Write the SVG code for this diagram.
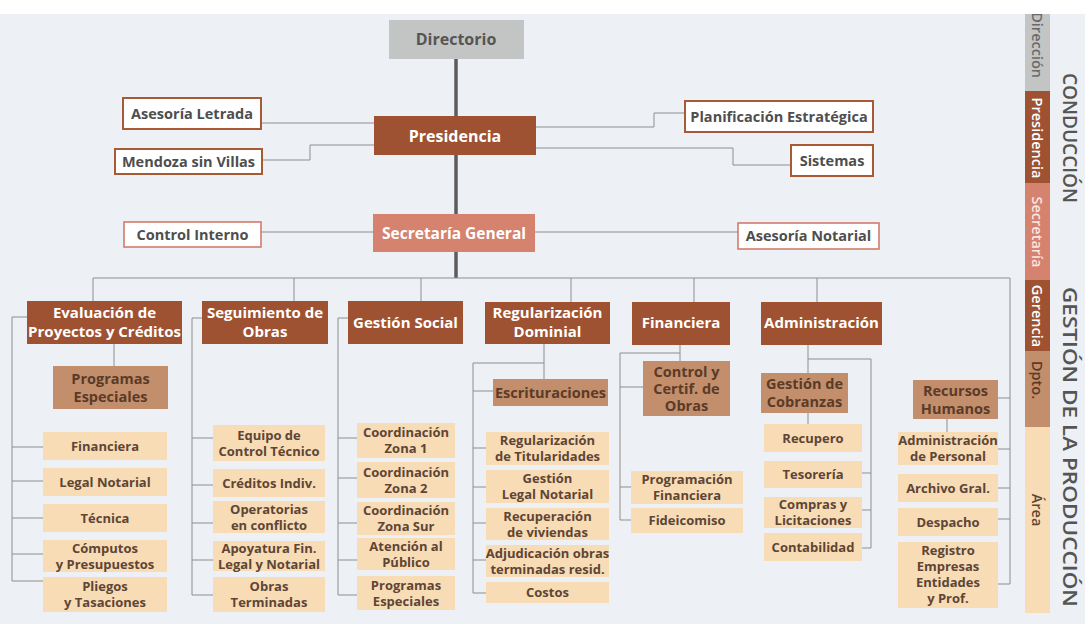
<svg xmlns="http://www.w3.org/2000/svg" width="1085" height="624" viewBox="0 0 1085 624">
  <defs>
    <style>
      text { font-family: "Open Sans", "Noto Sans", "Liberation Sans", sans-serif; font-weight: 700; text-anchor: middle; }
      .ln { fill: none; stroke: #8e8e8e; stroke-width: 1; }
      .trunk { fill: none; stroke: #5c5c5c; stroke-width: 3.5; }
      .dir { fill: #c3c5c5; }
      .pres { fill: #9e5232; }
      .sec { fill: #d5826f; }
      .ger { fill: #9e5232; }
      .dp { fill: #c38e6b; }
      .ar { fill: #f8dcb5; }
      .wb { fill: #ffffff; stroke: #a85a35; stroke-width: 2; }
      .ws { fill: #ffffff; stroke: #d27b6b; stroke-width: 1.6; }
      .tw { fill: #ffffff; font-size: 15px; }
      .tg { fill: #4e4e4e; font-size: 14.5px; }
      .td { fill: #5a3b28; font-size: 14.5px; }
      .ta { fill: #5e4535; font-size: 13px; }
      .side { font-size: 14.5px; font-weight: 600; dominant-baseline: central; }
      .big { font-size: 19px; font-weight: 600; fill: #555555; dominant-baseline: central; }
    </style>
    <clipPath id="barclip"><rect x="1025" y="14" width="25" height="600"/></clipPath>
  </defs>

  <!-- paper -->
  <rect x="0" y="0" width="1085" height="624" fill="#ffffff"/>
  <rect x="0" y="14" width="1085" height="610" fill="#edf0f4"/>

  <!-- connectors -->
  <g id="connectors">
    <path class="trunk" d="M456 59 V278"/>
    <!-- presidencia advisors -->
    <path class="ln" d="M261 123 H374"/>
    <path class="ln" d="M262 160 H310 V145 H374"/>
    <path class="ln" d="M536 127 H654 V113 H685"/>
    <path class="ln" d="M536 148 H733 V165 H791"/>
    <!-- secretaria advisors -->
    <path class="ln" d="M261 232 H373"/>
    <path class="ln" d="M535 232 H738"/>
    <!-- bus -->
    <path class="ln" d="M93 301 V278 H1010 V584 H998"/>
    <path class="ln" d="M294 278 V301 M421 278 V301 M571 278 V302 M694 278 V302 M817 278 V302"/>
    <!-- evaluacion -->
    <path class="ln" d="M114 344 V366"/>
    <path class="ln" d="M27 317 H12 V581 H43 M12 447 H43 M12 481 H43 M12 518 H43 M12 554 H43"/>
    <!-- seguimiento -->
    <path class="ln" d="M202 318 H192 V595 H213 M192 438 H213 M192 485 H213 M192 523 H213 M192 560 H213"/>
    <!-- gestion social -->
    <path class="ln" d="M348 318 H338 V595 H357 M338 438 H357 M338 478 H357 M338 523 H357 M338 560 H357"/>
    <!-- regularizacion -->
    <path class="ln" d="M544 344 V379 M544 363 H473 V593 H486 M473 391 H493 M473 448 H486 M473 487 H486 M473 523 H486 M473 560 H486"/>
    <!-- financiera -->
    <path class="ln" d="M680 345 V361 M680 353 H620 V520 H631 M620 387 H643 M620 487 H631"/>
    <!-- administracion -->
    <path class="ln" d="M808 345 V373 M808 413 V424 M808 359 H871 V548 H862 M871 473 H862 M871 510 H862"/>
    <!-- recursos humanos -->
    <path class="ln" d="M1010 398 H998 M1010 449 H998 M1010 488 H998 M1010 519 H998 M947 419 V432"/>
  </g>

  <!-- conduction -->
  <g id="directorio"><rect class="dir" x="389" y="20" width="135" height="39"/><text x="456" y="45" style="fill:#555;font-size:16px">Directorio</text></g>
  <g id="presidencia"><rect class="pres" x="374" y="116" width="162" height="39"/><text class="tw" x="455" y="141.5" style="font-size:16px">Presidencia</text></g>
  <g id="asesoria-letrada"><rect class="wb" x="123" y="98" width="138" height="31"/><text class="tg" x="192" y="119">Asesoría Letrada</text></g>
  <g id="mendoza-sin-villas"><rect class="wb" x="115" y="149" width="147" height="25"/><text class="tg" x="188.5" y="166.5">Mendoza sin Villas</text></g>
  <g id="planificacion"><rect class="wb" x="685" y="101" width="188" height="31"/><text class="tg" x="779" y="122">Planificación Estratégica</text></g>
  <g id="sistemas"><rect class="wb" x="791" y="145" width="82" height="31"/><text class="tg" x="832" y="166">Sistemas</text></g>
  <g id="secretaria"><rect class="sec" x="373" y="214" width="162" height="38"/><text class="tw" x="454" y="238.5" style="font-size:15.5px">Secretaría General</text></g>
  <g id="control-interno"><rect class="ws" x="124" y="222" width="137" height="25"/><text class="tg" x="192.5" y="239.5">Control Interno</text></g>
  <g id="asesoria-notarial"><rect class="ws" x="738" y="223" width="141" height="26"/><text class="tg" x="808.5" y="241">Asesoría Notarial</text></g>

  <!-- gerencias -->
  <g id="evaluacion"><rect class="ger" x="27" y="301" width="155" height="43"/><text class="tw" x="104.5" y="318">Evaluación de<tspan x="104.5" dy="18.5">Proyectos y Créditos</tspan></text></g>
  <g id="seguimiento"><rect class="ger" x="202" y="301" width="126" height="43"/><text class="tw" x="265" y="318">Seguimiento de<tspan x="265" dy="18.5">Obras</tspan></text></g>
  <g id="gestion-social"><rect class="ger" x="348" y="301" width="115" height="43"/><text class="tw" x="405.5" y="328">Gestión Social</text></g>
  <g id="regularizacion"><rect class="ger" x="485" y="302" width="125" height="42"/><text class="tw" x="547.5" y="318">Regularización<tspan x="547.5" dy="18.5">Dominial</tspan></text></g>
  <g id="financiera"><rect class="ger" x="632" y="302" width="98" height="43"/><text class="tw" x="681" y="328">Financiera</text></g>
  <g id="administracion"><rect class="ger" x="761" y="302" width="121" height="43"/><text class="tw" x="821.5" y="328">Administración</text></g>

  <!-- departamentos -->
  <g id="programas-especiales-dp"><rect class="dp" x="53" y="366" width="115" height="43"/><text class="td" x="110.5" y="384">Programas<tspan x="110.5" dy="18">Especiales</tspan></text></g>
  <g id="escrituraciones"><rect class="dp" x="493" y="379" width="115" height="27"/><text class="td" x="550.5" y="397.5">Escrituraciones</text></g>
  <g id="control-certif"><rect class="dp" x="643" y="361" width="87" height="55"/><text class="td" x="686.5" y="377">Control y<tspan x="686.5" dy="17">Certif. de</tspan><tspan x="686.5" dy="17">Obras</tspan></text></g>
  <g id="gestion-cobranzas"><rect class="dp" x="761" y="373" width="87" height="40"/><text class="td" x="804.5" y="389">Gestión de<tspan x="804.5" dy="18">Cobranzas</tspan></text></g>
  <g id="recursos-humanos"><rect class="dp" x="913" y="380" width="85" height="39"/><text class="td" x="955.5" y="396">Recursos<tspan x="955.5" dy="18">Humanos</tspan></text></g>

  <!-- areas: evaluacion -->
  <g id="ev-financiera"><rect class="ar" x="43" y="432" width="124" height="28"/><text class="ta" x="105" y="451">Financiera</text></g>
  <g id="ev-legal"><rect class="ar" x="43" y="468" width="124" height="28"/><text class="ta" x="105" y="487">Legal Notarial</text></g>
  <g id="ev-tecnica"><rect class="ar" x="43" y="504" width="124" height="28"/><text class="ta" x="105" y="523">Técnica</text></g>
  <g id="ev-computos"><rect class="ar" x="43" y="540" width="124" height="32"/><text class="ta" x="105" y="552.5">Cómputos<tspan x="105" dy="16">y Presupuestos</tspan></text></g>
  <g id="ev-pliegos"><rect class="ar" x="43" y="577" width="124" height="35"/><text class="ta" x="105" y="591">Pliegos<tspan x="105" dy="16">y Tasaciones</tspan></text></g>

  <!-- areas: seguimiento -->
  <g id="so-equipo"><rect class="ar" x="213" y="425" width="112" height="36"/><text class="ta" x="269" y="439.5">Equipo de<tspan x="269" dy="16">Control Técnico</tspan></text></g>
  <g id="so-creditos"><rect class="ar" x="213" y="469" width="112" height="28"/><text class="ta" x="269" y="487.5">Créditos Indiv.</text></g>
  <g id="so-operatorias"><rect class="ar" x="213" y="501" width="112" height="32"/><text class="ta" x="269" y="513.5">Operatorias<tspan x="269" dy="16">en conflicto</tspan></text></g>
  <g id="so-apoyatura"><rect class="ar" x="213" y="541" width="112" height="30"/><text class="ta" x="269" y="552.5">Apoyatura Fin.<tspan x="269" dy="16">Legal y Notarial</tspan></text></g>
  <g id="so-obras"><rect class="ar" x="213" y="577" width="112" height="35"/><text class="ta" x="269" y="591">Obras<tspan x="269" dy="16">Terminadas</tspan></text></g>

  <!-- areas: gestion social -->
  <g id="gs-zona1"><rect class="ar" x="357" y="423" width="98" height="35"/><text class="ta" x="406" y="437">Coordinación<tspan x="406" dy="16">Zona 1</tspan></text></g>
  <g id="gs-zona2"><rect class="ar" x="357" y="462" width="98" height="36"/><text class="ta" x="406" y="476.5">Coordinación<tspan x="406" dy="16">Zona 2</tspan></text></g>
  <g id="gs-zonasur"><rect class="ar" x="357" y="502" width="98" height="33"/><text class="ta" x="406" y="515">Coordinación<tspan x="406" dy="16">Zona Sur</tspan></text></g>
  <g id="gs-atencion"><rect class="ar" x="357" y="538" width="98" height="32"/><text class="ta" x="406" y="550.5">Atención al<tspan x="406" dy="16">Público</tspan></text></g>
  <g id="gs-programas"><rect class="ar" x="357" y="576" width="98" height="34"/><text class="ta" x="406" y="589.5">Programas<tspan x="406" dy="16">Especiales</tspan></text></g>

  <!-- areas: regularizacion -->
  <g id="rd-titularidades"><rect class="ar" x="486" y="432" width="123" height="33"/><text class="ta" x="547.5" y="445">Regularización<tspan x="547.5" dy="16">de Titularidades</tspan></text></g>
  <g id="rd-gestion"><rect class="ar" x="486" y="470" width="123" height="33"/><text class="ta" x="547.5" y="483">Gestión<tspan x="547.5" dy="16">Legal Notarial</tspan></text></g>
  <g id="rd-recuperacion"><rect class="ar" x="486" y="508" width="123" height="32"/><text class="ta" x="547.5" y="520.5">Recuperación<tspan x="547.5" dy="16">de viviendas</tspan></text></g>
  <g id="rd-adjudicacion"><rect class="ar" x="486" y="545" width="123" height="32"/><text class="ta" x="547.5" y="557.5">Adjudicación obras<tspan x="547.5" dy="16">terminadas resid.</tspan></text></g>
  <g id="rd-costos"><rect class="ar" x="486" y="582" width="123" height="21"/><text class="ta" x="547.5" y="597">Costos</text></g>

  <!-- areas: financiera -->
  <g id="fi-programacion"><rect class="ar" x="631" y="471" width="112" height="33"/><text class="ta" x="687" y="484">Programación<tspan x="687" dy="16">Financiera</tspan></text></g>
  <g id="fi-fideicomiso"><rect class="ar" x="631" y="508" width="112" height="25"/><text class="ta" x="687" y="525">Fideicomiso</text></g>

  <!-- areas: administracion -->
  <g id="ad-recupero"><rect class="ar" x="764" y="424" width="98" height="28"/><text class="ta" x="813" y="442.5">Recupero</text></g>
  <g id="ad-tesoreria"><rect class="ar" x="764" y="461" width="98" height="27"/><text class="ta" x="813" y="479">Tesorería</text></g>
  <g id="ad-compras"><rect class="ar" x="764" y="497" width="98" height="31"/><text class="ta" x="813" y="509">Compras y<tspan x="813" dy="16">Licitaciones</tspan></text></g>
  <g id="ad-contabilidad"><rect class="ar" x="764" y="533" width="98" height="28"/><text class="ta" x="813" y="551.5">Contabilidad</text></g>

  <!-- areas: recursos humanos -->
  <g id="rh-personal"><rect class="ar" x="898" y="432" width="100" height="33"/><text class="ta" x="948" y="445">Administración<tspan x="948" dy="16">de Personal</tspan></text></g>
  <g id="rh-archivo"><rect class="ar" x="898" y="474" width="100" height="28"/><text class="ta" x="948" y="492.5">Archivo Gral.</text></g>
  <g id="rh-despacho"><rect class="ar" x="898" y="508" width="100" height="28"/><text class="ta" x="948" y="526.5">Despacho</text></g>
  <g id="rh-registro"><rect class="ar" x="898" y="542" width="100" height="66"/><text class="ta" x="948" y="555">Registro<tspan x="948" dy="16">Empresas</tspan><tspan x="948" dy="16">Entidades</tspan><tspan x="948" dy="16">y Prof.</tspan></text></g>

  <!-- level legend -->
  <g id="legend">
    <g clip-path="url(#barclip)">
      <rect class="dir" x="1025" y="14" width="25" height="77"/>
      <rect class="pres" x="1025" y="91" width="25" height="92"/>
      <rect class="sec" x="1025" y="183" width="25" height="97"/>
      <rect class="ger" x="1025" y="280" width="25" height="71"/>
      <rect class="dp" x="1025" y="351" width="25" height="76"/>
      <rect class="ar" x="1025" y="427" width="25" height="186"/>
      <text class="side" transform="translate(1037.5 78) rotate(90)" style="text-anchor:end;fill:#6a6a6a">Dirección</text>
    </g>
    <text class="side" transform="translate(1037.5 138) rotate(90)" style="fill:#ffffff">Presidencia</text>
    <text class="side" transform="translate(1037.5 232) rotate(90)" style="fill:#fbe6e0">Secretaría</text>
    <text class="side" transform="translate(1037.5 316) rotate(90)" style="fill:#ffffff">Gerencia</text>
    <text class="side" transform="translate(1037.5 380) rotate(90)" style="fill:#5a3b28">Dpto.</text>
    <text class="side" transform="translate(1037.5 510) rotate(90)" style="fill:#5e4535">Área</text>
    <text class="big" transform="translate(1070 138) rotate(90)" textLength="130" lengthAdjust="spacingAndGlyphs">CONDUCCIÓN</text>
    <text class="big" transform="translate(1070 447) rotate(90)" textLength="320" lengthAdjust="spacingAndGlyphs">GESTIÓN DE LA PRODUCCIÓN</text>
  </g>
</svg>
